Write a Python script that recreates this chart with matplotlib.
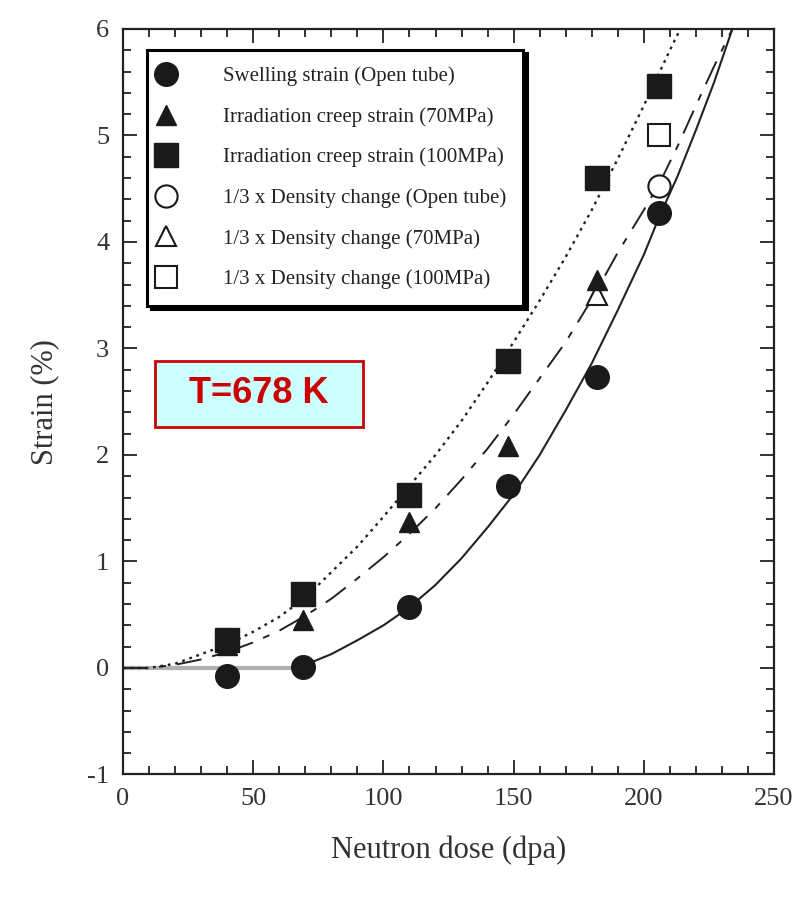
import matplotlib
matplotlib.use("Agg")
import matplotlib.pyplot as plt
from matplotlib.patches import Rectangle
from matplotlib.ticker import MultipleLocator

plt.rcParams['font.family'] = ['Liberation Serif', 'DejaVu Serif']
plt.rcParams['lines.scale_dashes'] = False
plt.rcParams['axes.unicode_minus'] = False

# ---- data ----
dose = [40, 69, 110, 148, 182, 206]
swelling = [-0.08, 0.01, 0.57, 1.71, 2.73, 4.27]
creep70_dose = [40, 69, 110, 148, 182]
creep70 = [0.22, 0.45, 1.37, 2.08, 3.64]
creep100 = [0.26, 0.69, 1.62, 2.88, 4.60, 5.46]
dens_open_dose = [206]
dens_open = [4.53]
dens70_dose = [182]
dens70 = [3.50]
dens100_dose = [206]
dens100 = [5.00]

# fitted curves
zero_x = [0, 65]
zero_y = [0, 0]
fit_sw_x = [65, 70, 80, 90, 100, 110, 120, 130, 140, 150, 160, 170, 180, 190, 200, 206, 213, 220, 227, 234]
fit_sw_y = [0.0, 0.03, 0.13, 0.26, 0.40, 0.57, 0.78, 1.03, 1.32, 1.63, 2.00, 2.42, 2.86, 3.36, 3.88, 4.24, 4.62, 5.05, 5.50, 6.00]
fit70_x = [0, 10, 20, 30, 40, 50, 60, 70, 80, 90, 100, 110, 120, 130, 140, 150, 160, 170, 180, 190, 200, 206, 213, 220, 227, 234]
fit70_y = [0.0, 0.0, 0.03, 0.08, 0.15, 0.24, 0.35, 0.49, 0.65, 0.84, 1.04, 1.26, 1.50, 1.77, 2.06, 2.38, 2.72, 3.06, 3.46, 3.90, 4.30, 4.55, 4.90, 5.28, 5.65, 6.00]
fit100_x = [0, 10, 20, 30, 40, 50, 60, 70, 80, 90, 100, 110, 120, 130, 140, 150, 160, 170, 180, 190, 200, 210, 214]
fit100_y = [0.0, 0.0, 0.04, 0.13, 0.22, 0.34, 0.48, 0.66, 0.90, 1.14, 1.42, 1.71, 2.00, 2.32, 2.68, 3.06, 3.45, 3.86, 4.30, 4.78, 5.28, 5.80, 6.00]

labels = ["Swelling strain (Open tube)",
          "Irradiation creep strain (70MPa)",
          "Irradiation creep strain (100MPa)",
          "1/3 x Density change (Open tube)",
          "1/3 x Density change (70MPa)",
          "1/3 x Density change (100MPa)"]

xticks = [0, 50, 100, 150, 200, 250]
yticks = [-1, 0, 1, 2, 3, 4, 5, 6]

# ---- figure ----
fig = plt.figure(figsize=(8.01, 8.97), dpi=100)
ax = fig.add_axes([0.1536, 0.1366, 0.8127, 0.8311])

ax.plot(zero_x, zero_y, color='#b0b0b0', lw=3, solid_capstyle='butt', zorder=2)
ax.plot(fit_sw_x, fit_sw_y, color='#222222', lw=1.5, zorder=2)
ax.plot(fit70_x, fit70_y, color='#222222', lw=1.4, linestyle=(0, (18, 8, 5, 8)), zorder=2)
ax.plot(fit100_x, fit100_y, color='#222222', lw=1.7, linestyle=(0, (2.0, 3.4)), zorder=2)

k = '#1a1a1a'
h1, = ax.plot(dose, swelling, 'o', ms=17, color=k, mec=k, zorder=4, label=labels[0])
h2, = ax.plot(creep70_dose, creep70, '^', ms=15, color=k, mec=k, zorder=3, label=labels[1])
h3, = ax.plot(dose, creep100, 's', ms=17, color=k, mec=k, zorder=4, label=labels[2])
h4, = ax.plot(dens_open_dose, dens_open, 'o', ms=16, mfc='white', mec=k, mew=1.5, zorder=3, label=labels[3])
h5, = ax.plot(dens70_dose, dens70, '^', ms=14, mfc='white', mec=k, mew=1.5, zorder=2.5, label=labels[4])
h6, = ax.plot(dens100_dose, dens100, 's', ms=16, mfc='white', mec=k, mew=1.5, zorder=3, label=labels[5])

ax.set_xlim(0, 250)
ax.set_ylim(-1, 6)
ax.set_xticks(xticks)
ax.set_yticks(yticks)
ax.xaxis.set_minor_locator(MultipleLocator(10))
ax.yaxis.set_minor_locator(MultipleLocator(0.2))
ax.tick_params(which='both', direction='in', top=True, right=True, colors='#222222',
               labelsize=19, width=1.3, labelcolor='#333333')
ax.tick_params(which='major', length=10, pad=10)
ax.tick_params(which='minor', length=5.5)
for s in ax.spines.values():
    s.set_linewidth(1.6)
    s.set_color('#222222')

ax.set_xlabel("Neutron dose (dpa)", fontsize=22, color='#333333', labelpad=18)
ax.set_ylabel("Strain (%)", fontsize=22, color='#333333', labelpad=20)

leg = ax.legend(handles=[h1, h2, h3, h4, h5, h6], loc='upper left',
                bbox_to_anchor=(0.037, 0.972), borderaxespad=0, fontsize=15,
                frameon=True, fancybox=False, edgecolor='black', framealpha=1,
                labelspacing=1.0, handlelength=0.2, handletextpad=2.65, borderpad=0.8,
                shadow={'color': 'black', 'alpha': 1, 'ox': 2.5, 'oy': -2.5})
leg.get_frame().set_linewidth(2.2)
for t in leg.get_texts():
    t.set_color('#222222')

# temperature box
ax.add_patch(Rectangle((0.049, 0.466), 0.32, 0.089, transform=ax.transAxes,
                       facecolor='#ccffff', edgecolor='#cc0000', lw=2, zorder=5))
ax.text(0.209, 0.5105, "T=678 K", transform=ax.transAxes, ha='center', va='center',
        fontsize=26, fontweight='bold', color='#cc0000', family=['Liberation Sans', 'DejaVu Sans'],
        zorder=6)

fig.savefig("out.png", dpi=100)
